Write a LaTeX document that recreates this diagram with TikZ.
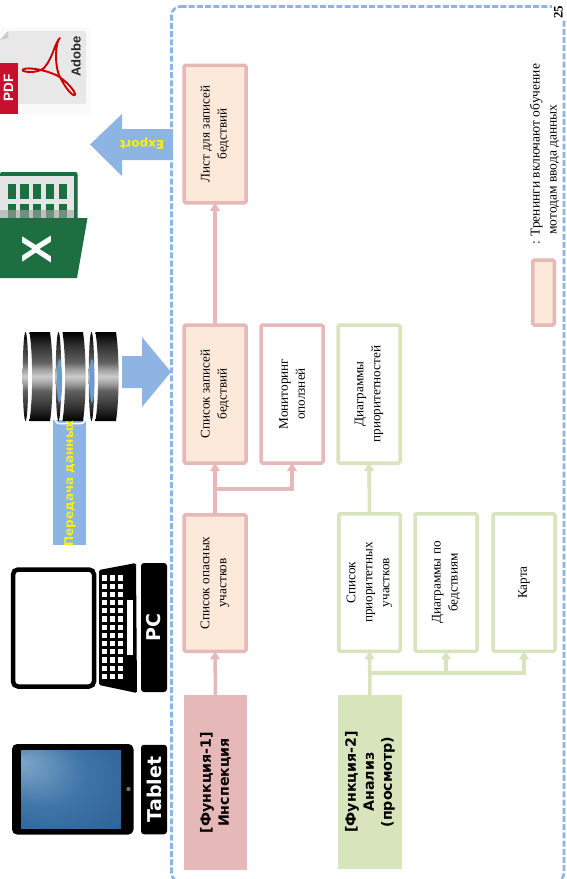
\documentclass[tikz,border=0pt]{standalone}
\usepackage{fontspec}
\setmainfont{Liberation Serif}
\newfontfamily\dvb{DejaVu Sans}[BoldFont={DejaVu Sans Bold}]
\newfontfamily\lsans{Liberation Sans}
\definecolor{pk}{HTML}{E6B8B7}
\definecolor{pc}{HTML}{FDE9D9}
\definecolor{gr}{HTML}{D7E4BC}
\definecolor{bl}{HTML}{8EB4E3}
\definecolor{xg}{HTML}{1D6F42}
\definecolor{pdfr}{HTML}{C8102E}
\definecolor{tb1}{HTML}{7FA8C8}
\definecolor{tb2}{HTML}{3E74A8}
\definecolor{tb3}{HTML}{2A5A8C}
\definecolor{glow}{HTML}{6C9AD2}
\pgfdeclareverticalshading{discsh}{100bp}{color(0bp)=(black);color(25bp)=(black);color(33bp)=(black!80);color(42bp)=(black!62);color(46bp)=(black!38);color(50bp)=(black!20);color(54bp)=(black!38);color(58bp)=(black!62);color(67bp)=(black!80);color(75bp)=(black);color(100bp)=(black)}
\pgfdeclareradialshading{tabsh}{\pgfpoint{-26bp}{18bp}}{color(0bp)=(tb1);color(22bp)=(tb2);color(50bp)=(tb3)}
\usetikzlibrary{arrows.meta}
\tikzset{
  x=1pt,y=-1pt,
  txt/.style={font=\fontsize{13.2}{17}\selectfont,align=center,text=black,rotate=90,inner sep=0pt},
  fbox/.style 2 args={draw=#1,fill=#2,line width=3.5pt,rounded corners=1.5pt,rotate=90,font=\fontsize{13.2}{17}\selectfont,align=center,inner sep=0pt,outer sep=0pt},
  pinkbox/.style={fbox={pk}{pc}},
  whitebox/.style={fbox={pk}{white}},
  greenbox/.style={fbox={gr}{white}},
  funcbox/.style={rotate=90,font=\dvb\bfseries\fontsize{14.2}{18}\selectfont,align=center,inner sep=0pt,outer sep=0pt},
  lnk/.style={line width=3.5pt,-{Triangle[length=8pt,width=9.5pt]}},
  devlabel/.style={fill=black,text=white,rounded corners=3pt,rotate=90,font=\dvb\bfseries\fontsize{19}{22}\selectfont,inner sep=0pt},
  yel/.style={text=yellow,font=\dvb\bfseries\fontsize{12}{14}\selectfont,inner sep=0pt},
}
\begin{document}
\begin{tikzpicture}
\useasboundingbox (0,0) rectangle (566,879);
\fill[white] (0,0) rectangle (566,879);
% dashed frame
\draw[bl,line width=2.6pt,dash pattern=on 6pt off 2.2pt,rounded corners=9pt] (171.5,6.5) -- (564,6.5) -- (564,882) -- (171.5,882) -- cycle;
% === PDF icon
\fill[black!2] (0,28) rectangle (90,115);
\fill[black!9,rounded corners=2pt] (0,40) -- (8,31) -- (86,31) -- (86,104) -- (0,104) -- cycle;
\fill[black!20] (0,40) -- (8,31) -- (8,38) -- cycle;
\fill[pdfr] (0,63) rectangle (17.5,113.5);
\node[rotate=90,text=white,font=\lsans\bfseries\fontsize{13.5}{14}\selectfont,inner sep=0pt] (pdftxt) at (8.5,88) {PDF};
\node[rotate=90,text=black!85,font=\lsans\bfseries\fontsize{13}{14}\selectfont,inner sep=0pt] (adobetxt) at (76,56.5) {Adobe};
\draw[red!80!black,line width=1.9pt,line join=round] (60,38) .. controls (55,42) and (53,58) .. (44,68) .. controls (37,74) and (22,72) .. (22.5,70) .. controls (24,67) and (40,68) .. (56,75) .. controls (66,80) and (76,92) .. (75,95) .. controls (73,97) and (65,88) .. (59,75) .. controls (54,62) and (56,40) .. (60,38) -- cycle;
% === Excel icon
\fill[xg,rounded corners=2pt] (0,172) rectangle (77.5,225);
\fill[black!10] (0,175.5) rectangle (73.5,218);
\foreach \cx in {7.5,20,32.5,45.5,58.5}{
  \fill[xg] (\cx,183.5) rectangle ++(8.5,15.5);
  \fill[xg] (\cx,203.5) rectangle ++(8.5,14.5);
}
\fill[black!35,opacity=.6] (0,210) rectangle (73.5,218);
\fill[xg] (0,218) -- (87.5,218) -- (77,278) -- (0,278) -- cycle;
\node[rotate=90,text=white,font=\lsans\bfseries\fontsize{42}{42}\selectfont,inner sep=0pt] (xltxt) at (37,249) {X};
% === Export arrow
\fill[bl] (173,129) -- (122,129) -- (122,114) -- (90,144.5) -- (122,176) -- (122,160) -- (173,160) -- cycle;
\node[yel,rotate=180] (exporttxt) at (142,144) {Export};
% === Data band and discs
\fill[bl] (53,420) rectangle (86,545);
\draw[white,line width=1.5pt,rounded corners=3pt] (54,416) -- (56,423.5) -- (84,423.5) -- (87,416);
\foreach \dx in {0,33,66}{
  \path[shading=discsh] ({25.5+\dx},376.5) ellipse [x radius=2.8pt,y radius=44.5pt];
  \path[shading=discsh] ({29.5+\dx},332) -- ({50+\dx},332) .. controls ({53.5+\dx},355) and ({53.5+\dx},398) .. ({50+\dx},421) -- ({29.5+\dx},421) .. controls ({33+\dx},398) and ({33+\dx},355) .. ({29.5+\dx},332) -- cycle;
}
\fill[glow] (59.5,381) ellipse [x radius=2.6pt,y radius=22pt];
\fill[glow] (92,381) ellipse [x radius=2.4pt,y radius=22pt];
\node[yel,rotate=90] (bandtxt) at (70,483.5) {Передача данных};
% === Right arrow
\fill[bl] (122,356) -- (142,356) -- (142,337) -- (171,372) -- (142,407) -- (142,388) -- (122,388) -- cycle;
% === Laptop
\draw[black,line width=4.5pt,rounded corners=5pt,fill=white] (13,569.5) rectangle (94,686.5);
\fill[black,rounded corners=1.5pt] (99,570) -- (136,563) -- (137,693) -- (99,685) -- cycle;
\foreach \ky in {0,...,12}{
  \foreach \kx in {101.5,109.5,117.5}{
    \fill[white] (\kx,{578+\ky*8.2-2.6}) rectangle ++(5.2,5.2);
  }
}
\fill[white] (127,600) rectangle (133,655);
\node[devlabel,minimum width=129pt,minimum height=26pt] (pclab) at (154,627.5) {PC};
% === Tablet
\fill[black,rounded corners=5pt] (12,744) rectangle (133.5,834.5);
\path[shading=tabsh] (21,750) rectangle (121,828);
\fill[black!55] (128.5,789) circle [radius=2.2pt];
\node[devlabel,minimum width=89.5pt,minimum height=26pt] (tablab) at (154,789.5) {Tablet};
% === Function boxes
\node[funcbox,fill=pk,minimum width=175pt,minimum height=63.5pt] (f1) at (215.5,782.5) {[Функция-1]\\Инспекция};
\node[funcbox,fill=gr,minimum width=174pt,minimum height=64pt] (f2) at (370,782) {[Функция-2]\\Анализ\\(просмотр)};
% === Process boxes
\node[pinkbox,minimum width=137.5pt,minimum height=62pt] (list) at (215,134) {Лист для записей\\бедствий};
\node[pinkbox,minimum width=138pt,minimum height=62pt] (rec) at (215,394) {Список записей\\бедствий};
\node[whitebox,minimum width=138pt,minimum height=62pt] (mon) at (292,394) {Мониторинг\\оползней};
\node[greenbox,minimum width=138pt,minimum height=62pt] (prd) at (369,394) {Диаграммы\\приоритетностей};
\node[pinkbox,minimum width=136.5pt,minimum height=62pt] (haz) at (215,583) {Список опасных\\участков};
\node[greenbox,minimum width=137.5pt,minimum height=61.5pt] (pri) at (369.5,582.5) {Список\\приоритетных\\участков};
\node[greenbox,minimum width=137.5pt,minimum height=62pt] (dis) at (446,582.5) {Диаграммы по\\бедствиям};
\node[greenbox,minimum width=137.5pt,minimum height=62pt] (map) at (524,582.5) {Карта};
% === Connectors
\coordinate (jp) at (215,489);
\coordinate (jg) at (369.5,673);
\draw[lnk,pk] (f1.east) -- (haz.west);
\draw[lnk,pk] (haz.east) -- (rec.west);
\draw[lnk,pk] (rec.east) -- (list.west);
\draw[lnk,pk] (jp) -| (mon.west);
\draw[lnk,gr] (pri.east) -- (prd.west);
\draw[lnk,gr] (f2.east) -- (pri.west);
\draw[lnk,gr] (jg) -| (dis.west);
\draw[lnk,gr] (jg) -| (map.west);
% === Legend
\node[pinkbox,minimum width=65pt,minimum height=21.5pt] (leg) at (543.5,292.5) {};
\node[txt,font=\fontsize{13.5}{17}\selectfont,align=left,anchor=west] (legtxt) at (544.5,245) {: Тренинги включают обучение\\\hspace*{10pt}мотодам ввода данных};
% === Page number
\fill[white] (552,0) rectangle (566,20);
\node[rotate=90,font=\bfseries\fontsize{13}{13}\selectfont,inner sep=0pt] (pageno) at (558.5,12) {25};
\end{tikzpicture}
\end{document}
